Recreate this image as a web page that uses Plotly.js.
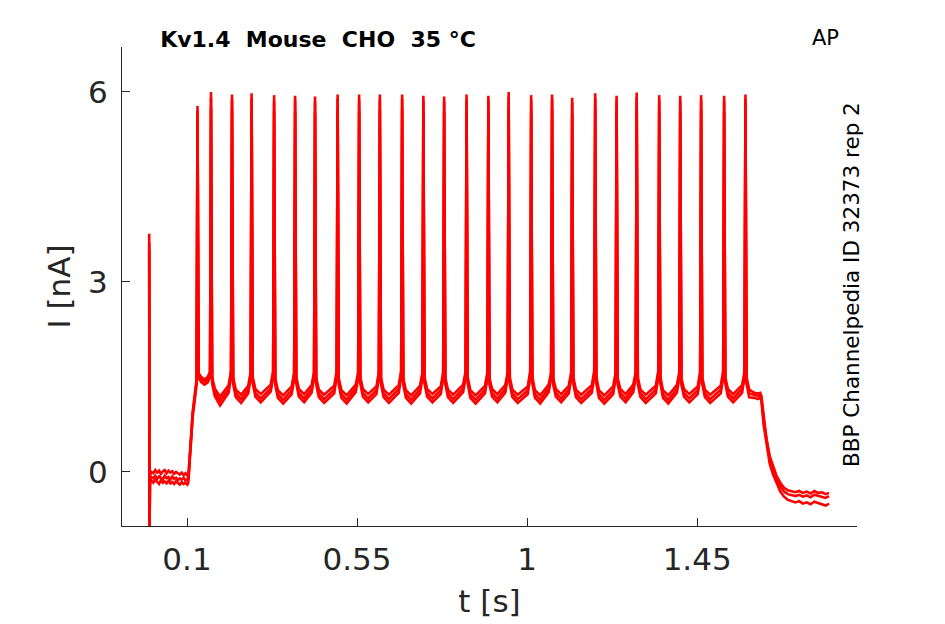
<!DOCTYPE html>
<html>
<head>
<meta charset="utf-8">
<script src="https://cdn.plot.ly/plotly-3.0.1.min.js"></script>
<style>
  html,body{margin:0;padding:0;background:#fff;}
  #chart{width:945px;height:624px;}
</style>
</head>
<body>
<div id="chart"></div>
<script>
// Kv1.4 Mouse CHO 35 °C – AP protocol, three repetitions

// stimulus artifact at t = 0
const ART_T = [0.0000, 0.0008];
const ART_A = [3.76, -1.07];
const ART_B = [3.62, -1.02];
const ART_C = [3.50, -0.96];

// holding baseline before the step
const BASE_T = [0.0020,0.0060,0.0110,0.0160,0.0210,0.0260,0.0310,0.0360,0.0410,0.0460,0.0510,0.0560,0.0610,0.0660,0.0710,0.0760,0.0810,0.0860,0.0910,0.0960,0.1010,0.1035];
const BASE_A = [-0.05,0.00,-0.02,0.03,-0.01,0.02,-0.03,0.01,0.03,-0.02,0.02,-0.01,0.01,-0.03,0.00,-0.02,-0.04,-0.01,-0.05,-0.02,-0.06,-0.08];
const BASE_B = [-0.12,-0.08,-0.10,-0.06,-0.11,-0.07,-0.09,-0.12,-0.06,-0.10,-0.08,-0.12,-0.07,-0.11,-0.09,-0.13,-0.10,-0.12,-0.09,-0.14,-0.11,-0.12];
const BASE_C = [-0.18,-0.14,-0.17,-0.12,-0.16,-0.19,-0.13,-0.17,-0.15,-0.18,-0.14,-0.18,-0.16,-0.19,-0.15,-0.17,-0.20,-0.16,-0.19,-0.17,-0.20,-0.17];

// spike train: one entry per spike
const RISE_T   = [0.1150,0.1545,0.2101,0.2620,0.3215,0.3771,0.4298,0.4896,0.5465,0.6013,0.6603,0.7165,0.7715,0.8308,0.8885,0.9422,1.0018,1.0571,1.1103,1.1712,1.2278,1.2810,1.3406,1.3962,1.4515,1.5124,1.5688];
const CUSP_T   = [0.1253,0.1610,0.2166,0.2685,0.3280,0.3836,0.4363,0.4961,0.5530,0.6078,0.6668,0.7230,0.7780,0.8373,0.8950,0.9487,1.0083,1.0636,1.1168,1.1777,1.2343,1.2875,1.3471,1.4027,1.4580,1.5189,1.5753];
const SPIKE_T  = [0.1278,0.1635,0.2191,0.2710,0.3305,0.3861,0.4388,0.4986,0.5555,0.6103,0.6693,0.7255,0.7805,0.8398,0.8975,0.9512,1.0108,1.0661,1.1193,1.1802,1.2368,1.2900,1.3496,1.4052,1.4605,1.5214,1.5778];
const POST_T   = [0.1308,0.1665,0.2221,0.2740,0.3335,0.3891,0.4418,0.5016,0.5585,0.6133,0.6723,0.7285,0.7835,0.8428,0.9005,0.9542,1.0138,1.0691,1.1223,1.1832,1.2398,1.2930,1.3526,1.4082,1.4635,1.5244,1.5808];
const DROP_T   = [0.1378,0.1735,0.2291,0.2810,0.3405,0.3961,0.4488,0.5086,0.5655,0.6203,0.6793,0.7355,0.7905,0.8498,0.9075,0.9612,1.0208,1.0761,1.1293,1.1902,1.2468,1.3000,1.3596,1.4152,1.4705,1.5314,1.5878];
const TROUGH_T = [0.1460,0.1875,0.2431,0.2950,0.3545,0.4101,0.4628,0.5226,0.5795,0.6343,0.6933,0.7495,0.8045,0.8638,0.9215,0.9752,1.0348,1.0901,1.1433,1.2042,1.2608,1.3140,1.3736,1.4292,1.4845,1.5454,1.6018];

const PEAK_A = [5.78,6.00,5.96,5.98,5.95,5.94,5.93,5.96,5.96,5.96,5.96,5.94,5.93,5.96,5.94,6.00,5.95,5.96,5.91,5.98,5.94,5.99,5.95,5.94,5.95,5.94,5.96];
const PEAK_B = [5.70,5.91,5.88,5.90,5.86,5.87,5.85,5.89,5.87,5.88,5.89,5.86,5.85,5.88,5.87,5.92,5.86,5.89,5.84,5.90,5.86,5.91,5.87,5.86,5.88,5.85,5.89];
const PEAK_C = [5.55,5.74,5.71,5.72,5.69,5.70,5.67,5.72,5.70,5.71,5.72,5.68,5.69,5.71,5.69,5.75,5.70,5.72,5.66,5.73,5.69,5.74,5.70,5.69,5.71,5.68,5.72];

const CUSP_A = [1.46,1.58,1.60,1.58,1.59,1.57,1.58,1.59,1.57,1.58,1.60,1.57,1.58,1.59,1.57,1.58,1.59,1.57,1.58,1.60,1.57,1.58,1.59,1.57,1.58,1.59,1.58];
const CUSP_B = [1.42,1.54,1.55,1.54,1.55,1.53,1.54,1.54,1.53,1.54,1.55,1.53,1.54,1.55,1.52,1.54,1.55,1.53,1.54,1.55,1.52,1.54,1.55,1.53,1.54,1.54,1.53];
const CUSP_C = [1.38,1.50,1.51,1.49,1.50,1.48,1.50,1.50,1.49,1.50,1.51,1.48,1.49,1.50,1.48,1.49,1.51,1.49,1.49,1.51,1.48,1.50,1.50,1.48,1.49,1.50,1.49];

const RISE_A = [0.95,1.50,1.37,1.36,1.38,1.35,1.37,1.36,1.38,1.35,1.37,1.36,1.35,1.38,1.36,1.37,1.35,1.38,1.36,1.37,1.35,1.38,1.36,1.37,1.35,1.36,1.37];
const RISE_B = [0.91,1.46,1.31,1.30,1.32,1.29,1.31,1.30,1.32,1.29,1.31,1.30,1.29,1.32,1.30,1.31,1.29,1.32,1.30,1.31,1.29,1.32,1.30,1.31,1.29,1.30,1.31];
const RISE_C = [0.87,1.41,1.25,1.24,1.27,1.23,1.25,1.24,1.26,1.23,1.25,1.24,1.23,1.26,1.24,1.25,1.23,1.26,1.24,1.25,1.23,1.26,1.24,1.25,1.23,1.24,1.25];

const POST_A = [1.56,1.50,1.49,1.50,1.48,1.50,1.49,1.48,1.50,1.49,1.48,1.50,1.49,1.50,1.48,1.49,1.50,1.48,1.49,1.50,1.48,1.49,1.50,1.48,1.49,1.50,1.49];
const POST_B = [1.52,1.45,1.44,1.45,1.43,1.45,1.44,1.43,1.45,1.44,1.43,1.45,1.44,1.45,1.43,1.44,1.45,1.43,1.44,1.45,1.43,1.44,1.45,1.43,1.44,1.45,1.44];
const POST_C = [1.48,1.40,1.39,1.40,1.38,1.40,1.39,1.38,1.40,1.39,1.38,1.40,1.39,1.40,1.38,1.39,1.40,1.38,1.39,1.40,1.38,1.39,1.40,1.38,1.39,1.40,1.39];

const DROP_A = [1.50,1.32,1.30,1.31,1.29,1.31,1.30,1.29,1.31,1.30,1.29,1.31,1.30,1.29,1.31,1.30,1.29,1.31,1.30,1.29,1.31,1.30,1.29,1.31,1.30,1.31,1.30];
const DROP_B = [1.46,1.26,1.24,1.25,1.23,1.25,1.24,1.23,1.25,1.24,1.23,1.25,1.24,1.23,1.25,1.24,1.23,1.25,1.24,1.23,1.25,1.24,1.23,1.25,1.24,1.25,1.24];
const DROP_C = [1.42,1.20,1.18,1.19,1.17,1.19,1.18,1.17,1.19,1.18,1.17,1.19,1.18,1.17,1.19,1.18,1.17,1.19,1.18,1.17,1.19,1.18,1.17,1.19,1.18,1.19,1.18];

const TROUGH_A = [1.46,1.19,1.22,1.23,1.21,1.23,1.22,1.21,1.23,1.22,1.21,1.23,1.22,1.21,1.23,1.22,1.21,1.23,1.22,1.21,1.23,1.22,1.21,1.23,1.22,1.23,1.25];
const TROUGH_B = [1.42,1.12,1.15,1.16,1.14,1.16,1.15,1.14,1.16,1.15,1.14,1.16,1.15,1.14,1.16,1.15,1.14,1.16,1.15,1.14,1.16,1.15,1.14,1.16,1.15,1.16,1.21];
const TROUGH_C = [1.38,1.05,1.09,1.10,1.08,1.10,1.09,1.08,1.10,1.09,1.08,1.10,1.09,1.08,1.10,1.09,1.08,1.10,1.09,1.08,1.10,1.09,1.08,1.10,1.09,1.10,1.17];

// end of step and tail current
const END_T = [1.6110,1.6170,1.6200,1.6260,1.6340,1.6420,1.6510,1.6600,1.6700,1.6800,1.6900,1.7000,1.7100,1.7200,1.7300,1.7400,1.7500,1.7600,1.7700,1.7800,1.7900,1.7990];
const END_A = [1.24,1.25,1.20,0.85,0.50,0.25,0.08,-0.06,-0.17,-0.25,-0.29,-0.31,-0.32,-0.30,-0.33,-0.31,-0.34,-0.30,-0.33,-0.32,-0.35,-0.33];
const END_B = [1.20,1.22,1.17,0.80,0.46,0.20,0.03,-0.11,-0.23,-0.31,-0.35,-0.37,-0.38,-0.36,-0.39,-0.37,-0.40,-0.36,-0.38,-0.39,-0.41,-0.38];
const END_C = [1.15,1.18,1.13,0.74,0.40,0.13,-0.04,-0.18,-0.31,-0.39,-0.44,-0.46,-0.48,-0.46,-0.50,-0.48,-0.51,-0.47,-0.49,-0.50,-0.53,-0.50];

const X_TICKS = [0.1, 0.55, 1, 1.45];
const X_LABELS = ['0.1', '0.55', '1', '1.45'];
const Y_TICKS = [0, 3, 6];

const INK = '#262626';
const RED = '#ff0000';

function rep(art, base, rise, cusp, peak, post, drop, trough, end) {
  const x = [...ART_T, ...BASE_T], y = [...art, ...base];
  for (let k = 0; k < SPIKE_T.length; k++) {
    x.push(RISE_T[k], CUSP_T[k], SPIKE_T[k], POST_T[k], DROP_T[k], TROUGH_T[k]);
    y.push(rise[k], cusp[k], peak[k], post[k], drop[k], trough[k]);
  }
  x.push(...END_T); y.push(...end);
  return {x, y, type: 'scatter', mode: 'lines', line: {color: RED, width: 2.6}, hoverinfo: 'skip', showlegend: false};
}

const traces = [
  rep(ART_C, BASE_C, RISE_C, CUSP_C, PEAK_C, POST_C, DROP_C, TROUGH_C, END_C),
  rep(ART_B, BASE_B, RISE_B, CUSP_B, PEAK_B, POST_B, DROP_B, TROUGH_B, END_B),
  rep(ART_A, BASE_A, RISE_A, CUSP_A, PEAK_A, POST_A, DROP_A, TROUGH_A, END_A)
];

const axisBase = {
  showgrid: false, zeroline: false, showline: true, linecolor: INK, linewidth: 1,
  ticks: 'inside', ticklen: 8, tickwidth: 1, tickcolor: INK,
  tickfont: {size: 31, color: INK}, mirror: false
};

const layout = {
  width: 945, height: 624,
  paper_bgcolor: '#fff', plot_bgcolor: '#fff',
  font: {family: 'DejaVu Sans, sans-serif', color: INK},
  margin: {l: 122, r: 88, t: 47, b: 98},
  title: {
    text: '<b>Kv1.4\u00a0\u00a0Mouse\u00a0\u00a0CHO\u00a0\u00a035 °C</b>',
    xref: 'container', yref: 'container', x: 318 / 945, y: 1 - 39 / 624,
    xanchor: 'center', yanchor: 'middle', font: {size: 22, color: '#000'}
  },
  xaxis: {...axisBase, range: [-0.072, 1.873], tickvals: X_TICKS, ticktext: X_LABELS,
    ticklabelstandoff: 6, title: {text: 't [s]', font: {size: 31, color: INK}, standoff: 14}},
  yaxis: {...axisBase, range: [-0.853, 6.71], tickvals: Y_TICKS,
    ticklabelstandoff: 7, title: {text: 'I [nA]', font: {size: 31, color: INK}, standoff: 8}},
  annotations: [
    {text: 'AP', xref: 'paper', yref: 'paper', x: (825 - 122) / 735, y: (526 - 38) / 479,
      xanchor: 'center', yanchor: 'middle', showarrow: false, font: {size: 21, color: '#000'}},
    {text: 'BBP Channelpedia ID 32373 rep 2', xref: 'paper', yref: 'paper',
      x: (851 - 122) / 735, y: (526 - 285) / 479, textangle: -90,
      xanchor: 'center', yanchor: 'middle', showarrow: false, font: {size: 21.5, color: '#000'}}
  ]
};

Plotly.newPlot('chart', traces, layout, {displayModeBar: false, staticPlot: true});
</script>
</body>
</html>
